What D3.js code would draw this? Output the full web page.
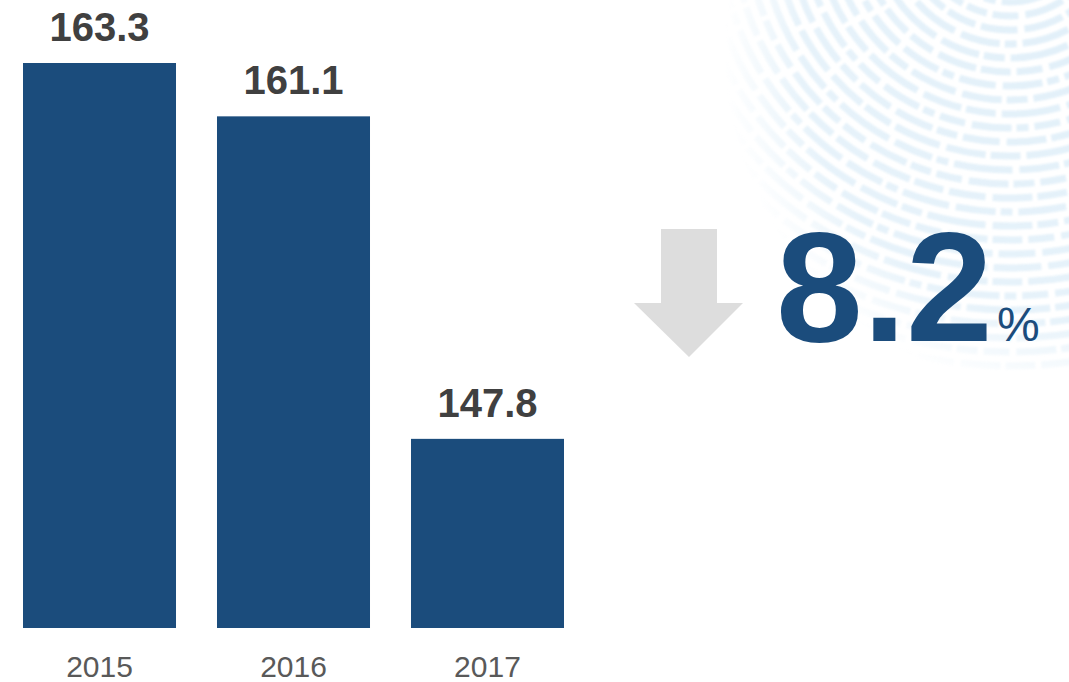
<!DOCTYPE html>
<html><head><meta charset="utf-8">
<script src="https://cdn.jsdelivr.net/npm/d3@7"></script>
<style>
html,body{margin:0;padding:0;background:#fff;}
svg{display:block;font-family:"Liberation Sans",Arial,sans-serif;}
</style></head>
<body>
<svg id="chart" width="1069" height="682"></svg>
<script>
const years = ["2015", "2016", "2017"];
const values = [163.3, 161.1, 147.8];
const changeValue = "8.2";
const changeUnit = "%";

const svg = d3.select("#chart");

// decorative fingerprint-like background
const defs = svg.append("defs");
const grad = defs.append("radialGradient").attr("id","fade")
  .attr("cx", 1069).attr("cy", 50).attr("r", 345).attr("gradientUnits","userSpaceOnUse");
grad.append("stop").attr("offset","0%").attr("stop-color","#fff").attr("stop-opacity",1);
grad.append("stop").attr("offset","78%").attr("stop-color","#fff").attr("stop-opacity",0.85);
grad.append("stop").attr("offset","100%").attr("stop-color","#fff").attr("stop-opacity",0);
defs.append("mask").attr("id","fpmask").append("rect")
  .attr("x",0).attr("y",0).attr("width",1069).attr("height",682).attr("fill","url(#fade)");
defs.append("filter").attr("id","soft").append("feGaussianBlur").attr("stdDeviation",1.2);
const fp = svg.append("g").attr("mask","url(#fpmask)").append("g").attr("filter","url(#soft)");
const radii = d3.range(40, 460, 14);
fp.selectAll("circle").data(radii).join("circle")
  .attr("cx", 1010).attr("cy", -80).attr("r", d => d)
  .attr("fill","none").attr("stroke","#e2f0f9").attr("stroke-width",7)
  .attr("stroke-dasharray",(d,i)=> [26+(i%4)*11, 6, 12+(i%3)*9, 5, 40, 7].join(" "))
  .attr("stroke-dashoffset",(d,i)=> i*17);

const x = d3.scaleBand().domain(years).range([23, 564]).paddingInner(0.2113).paddingOuter(0);
const y = d3.scaleLinear().domain([140, 163.3]).range([628, 63]);

const data = years.map((yr,i)=>({year:yr, value:values[i]}));

svg.append("g").selectAll("rect").data(data).join("rect")
  .attr("x", d => x(d.year)).attr("width", x.bandwidth())
  .attr("y", d => y(d.value)).attr("height", d => y(140) - y(d.value))
  .attr("fill", "#1b4c7c");

svg.append("g").selectAll("text").data(data).join("text")
  .attr("x", d => x(d.year) + x.bandwidth()/2)
  .attr("y", d => y(d.value) - 22)
  .attr("text-anchor","middle")
  .attr("font-size", 40).attr("font-weight","bold").attr("fill","#404040")
  .text(d => d.value.toFixed(1));

const xAxis = svg.append("g").attr("transform","translate(0,628)")
  .call(d3.axisBottom(x).tickSize(0).tickPadding(0));
xAxis.select(".domain").remove();
xAxis.selectAll("text").attr("font-size", 30).attr("fill","#595959")
  .attr("font-family","Liberation Sans, Arial, sans-serif")
  .attr("dy", null).attr("y", 49);

// down arrow
const arrow = d3.path();
arrow.moveTo(661, 229); arrow.lineTo(717, 229); arrow.lineTo(717, 303);
arrow.lineTo(743, 303); arrow.lineTo(689, 357); arrow.lineTo(634, 303);
arrow.lineTo(661, 303); arrow.closePath();
svg.append("path").attr("d", arrow.toString()).attr("fill","#dddddd");

const big = svg.append("text").attr("x", 776).attr("y", 341)
  .attr("fill","#1b4c7c").attr("font-weight","bold");
big.append("tspan").attr("font-size", 156).text(changeValue);
big.append("tspan").attr("font-size", 48).attr("font-weight","normal").attr("dx", 4).text(changeUnit);
</script>
</body></html>
